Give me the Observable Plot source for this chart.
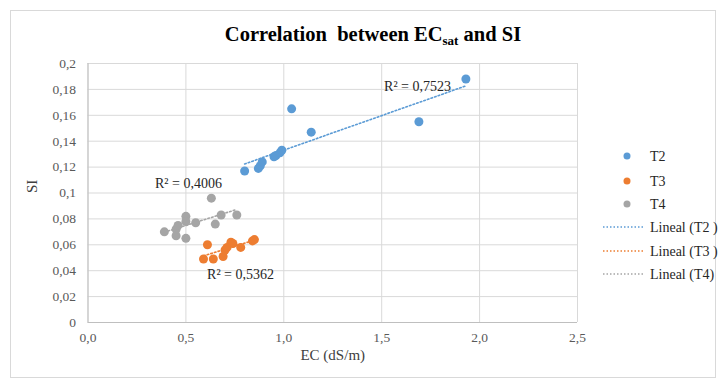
<!DOCTYPE html>
<html><head><meta charset="utf-8">
<script src="https://cdn.jsdelivr.net/npm/d3@7"></script>
<script src="https://cdn.jsdelivr.net/npm/@observablehq/plot@0.6"></script>
<style>
body{margin:0;background:#fff;}
#chart{position:relative;width:721px;height:383px;font-family:"Liberation Serif",serif;}
#chart svg{position:absolute;left:0;top:0;}
#title{position:absolute;left:0;top:23px;width:746px;text-align:center;font-weight:bold;font-size:20.5px;line-height:22px;color:#000;z-index:2;}
#title sub{font-size:13px;line-height:0;vertical-align:-4px;}
</style></head><body>
<div id="chart"><div id="title">Correlation&nbsp; between EC<sub>sat</sub> and SI</div></div>
<script>
const seriesNames = ["T2", "T3", "T4"];
const seriesColors = ["#5b9bd5", "#ed7d31", "#a5a5a5"];
const legendLineLabels = ["Lineal (T2 )", "Lineal (T3 )", "Lineal (T4)"];

const t2EC = [0.80, 0.87, 0.88, 0.89, 0.95, 0.96, 0.98, 0.99, 1.04, 1.14, 1.69, 1.93];
const t2SI = [0.117, 0.119, 0.121, 0.124, 0.128, 0.129, 0.131, 0.133, 0.165, 0.147, 0.155, 0.188];
const t3EC = [0.59, 0.61, 0.64, 0.69, 0.70, 0.71, 0.73, 0.74, 0.78, 0.84, 0.85];
const t3SI = [0.049, 0.060, 0.049, 0.051, 0.056, 0.058, 0.062, 0.061, 0.058, 0.063, 0.064];
const t4EC = [0.39, 0.45, 0.45, 0.46, 0.50, 0.50, 0.50, 0.55, 0.63, 0.65, 0.68, 0.76];
const t4SI = [0.070, 0.067, 0.072, 0.075, 0.082, 0.078, 0.065, 0.077, 0.096, 0.076, 0.083, 0.083];

const r2Labels = ["R² = 0,7523", "R² = 0,4006", "R² = 0,5362"];
const r2EC = [1.683, 0.513, 0.779];
const r2SI = [0.1822, 0.1073, 0.0371];

const xTicks = [0, 0.5, 1, 1.5, 2, 2.5];
const xTickLabels = ["0,0", "0,5", "1,0", "1,5", "2,0", "2,5"];
const yTicks = [0, 0.02, 0.04, 0.06, 0.08, 0.1, 0.12, 0.14, 0.16, 0.18, 0.2];
const yTickLabels = ["0", "0,02", "0,04", "0,06", "0,08", "0,1", "0,12", "0,14", "0,16", "0,18", "0,2"];

const xLabel = "EC (dS/m)";
const yLabel = "SI";

const sets = [[t2EC, t2SI], [t3EC, t3SI], [t4EC, t4SI]];
const points = sets.flatMap(([xs, ys], k) => xs.map((x, i) => ({series: seriesNames[k], ec: x, si: ys[i]})));
const r2 = r2Labels.map((t, i) => ({text: t, ec: r2EC[i], si: r2SI[i]}));

const color = {domain: seriesNames, range: seriesColors};
const serif = "'Liberation Serif', serif";

const plot = Plot.plot({
  width: 721,
  height: 383,
  marginLeft: 87.5,
  marginRight: 144,
  marginTop: 63,
  marginBottom: 61,
  style: {fontFamily: serif, fontSize: "13.5px", color: "#595959", background: "transparent"},
  x: {domain: [0, 2.5], label: null},
  y: {domain: [0, 0.2], label: null},
  color,
  marks: [
    Plot.gridX(xTicks, {stroke: "#d9d9d9", strokeOpacity: 1}),
    Plot.gridY(yTicks, {stroke: "#d9d9d9", strokeOpacity: 1}),
    Plot.ruleX([0], {stroke: "#bfbfbf"}),
    Plot.ruleY([0], {stroke: "#bfbfbf"}),
    Plot.axisX({ticks: xTicks, tickFormat: d => xTickLabels[xTicks.indexOf(d)], tickSize: 0, tickPadding: 10, label: null, fontSize: 13.5, fontFamily: serif}),
    Plot.axisY({ticks: yTicks, tickFormat: d => yTickLabels[yTicks.indexOf(d)], tickSize: 0, tickPadding: 12, label: null, fontSize: 13.5, fontFamily: serif}),
    Plot.text([xLabel], {frameAnchor: "bottom", dy: 37, text: d => d, fontSize: 15, fill: "#404040", fontFamily: serif}),
    Plot.text([yLabel], {frameAnchor: "left", dx: -56, rotate: -90, text: d => d, fontSize: 15, fill: "#404040", fontFamily: serif}),
    Plot.linearRegressionY(points, {x: "ec", y: "si", stroke: "series", ci: 0, strokeWidth: 1.6, strokeDasharray: "1.6,2.2"}),
    Plot.dot(points, {x: "ec", y: "si", fill: "series", r: 4.5}),
    Plot.text(r2, {x: "ec", y: "si", text: "text", fontSize: 14, fill: "#262626", fontFamily: serif})
  ]
});
document.getElementById("chart").appendChild(plot);

const svg = d3.select(plot);
svg.selectAll("text").each(function() { this.style.setProperty("font-family", serif, "important"); });
svg.selectAll("[aria-label$='tick label'] text").each(function() { this.style.setProperty("font-size", "13.5px", "important"); });
svg.insert("rect", ":first-child").attr("x", 10.5).attr("y", 10.5).attr("width", 705).attr("height", 367)
  .attr("fill", "none").attr("stroke", "#d9d9d9");
const lg = svg.append("g").attr("font-size", 14).attr("fill", "#262626").attr("text-anchor", "start").style("font-family", serif);
const dotY = [156, 181, 204];
const lineY = [227, 251, 274];
seriesNames.forEach((s, i) => {
  lg.append("circle").attr("cx", 627).attr("cy", dotY[i]).attr("r", 3.5).attr("fill", seriesColors[i]);
  lg.append("text").attr("x", 650).attr("y", dotY[i]).attr("dy", "0.35em").text(s);
  lg.append("line").attr("x1", 603).attr("x2", 645).attr("y1", lineY[i]).attr("y2", lineY[i])
    .attr("stroke", seriesColors[i]).attr("stroke-width", 1.5).attr("stroke-dasharray", "1.5,2");
  lg.append("text").attr("x", 650).attr("y", lineY[i]).attr("dy", "0.35em").text(legendLineLabels[i]);
});
</script>
</body></html>
